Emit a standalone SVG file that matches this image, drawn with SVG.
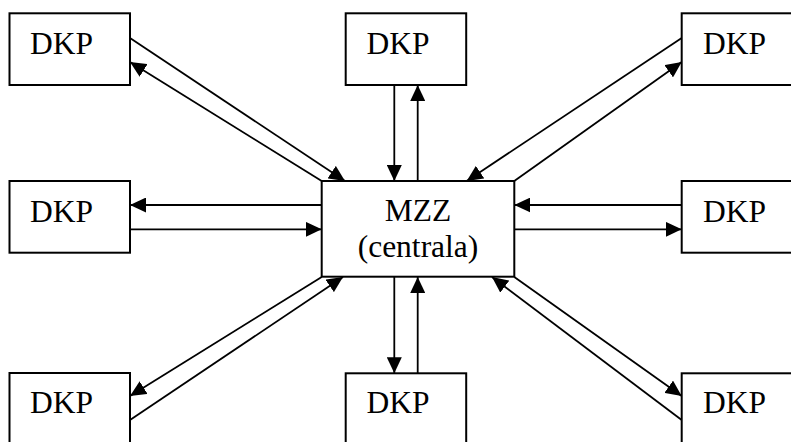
<svg xmlns="http://www.w3.org/2000/svg" width="791" height="442" viewBox="0 0 791 442">
<style>
.box{fill:#fff;stroke:#000;stroke-width:2}
.t{font-family:"Liberation Serif","Times New Roman",serif;font-size:31.5px;fill:#000}
.c line{stroke:#000;stroke-width:1.8;marker-end:url(#ah)}
</style>
<defs>
<marker id="ah" markerUnits="userSpaceOnUse" markerWidth="17" markerHeight="15" refX="16" refY="7.5" orient="auto" viewBox="0 0 17 15">
<path d="M0,0 L16,7.5 L0,15 z" fill="#000"/>
</marker>
</defs>
<rect width="791" height="442" fill="#fff"/>
<g class="c" id="connectors">
<line x1="130" y1="38" x2="345" y2="181"/>
<line x1="321.7" y1="181" x2="130" y2="62"/>
<line x1="394.3" y1="85" x2="394.3" y2="181"/>
<line x1="417.7" y1="181" x2="417.7" y2="85"/>
<line x1="681.7" y1="38" x2="466.7" y2="181"/>
<line x1="514.3" y1="181" x2="681.7" y2="62"/>
<line x1="321.7" y1="205" x2="130" y2="205"/>
<line x1="130" y1="229.3" x2="321.7" y2="229.3"/>
<line x1="681.7" y1="205" x2="514.3" y2="205"/>
<line x1="514.3" y1="229.3" x2="681.7" y2="229.3"/>
<line x1="321.7" y1="277" x2="130" y2="396"/>
<line x1="130" y1="420" x2="343" y2="277"/>
<line x1="394.3" y1="277" x2="394.3" y2="373.3"/>
<line x1="417.7" y1="373.3" x2="417.7" y2="277"/>
<line x1="514.3" y1="277" x2="681.7" y2="396"/>
<line x1="681.7" y1="420" x2="492" y2="277"/>
</g>
<g id="mzz"><rect class="box" x="321.7" y="181" width="192.6" height="95.7"/><text class="t" x="418" y="221" text-anchor="middle">MZZ</text><text class="t" x="418" y="257" text-anchor="middle">(centrala)</text></g>
<g id="dkp-tl"><rect class="box" x="9.5" y="13.3" width="120.5" height="71.7"/><text class="t" x="30" y="54">DKP</text></g>
<g id="dkp-tc"><rect class="box" x="345.7" y="13.3" width="120.5" height="71.7"/><text class="t" x="366.5" y="54">DKP</text></g>
<g id="dkp-tr"><rect class="box" x="681.7" y="13.3" width="120.5" height="71.7"/><text class="t" x="703" y="54">DKP</text></g>
<g id="dkp-ml"><rect class="box" x="9.5" y="181" width="120.5" height="71.7"/><text class="t" x="30" y="221.7">DKP</text></g>
<g id="dkp-mr"><rect class="box" x="681.7" y="181" width="120.5" height="71.7"/><text class="t" x="703" y="221.7">DKP</text></g>
<g id="dkp-bl"><rect class="box" x="9.5" y="373" width="120.5" height="71.7"/><text class="t" x="30" y="413.3">DKP</text></g>
<g id="dkp-bc"><rect class="box" x="345.7" y="373.3" width="120.5" height="71.7"/><text class="t" x="366.5" y="413.3">DKP</text></g>
<g id="dkp-br"><rect class="box" x="681.7" y="373.3" width="120.5" height="71.7"/><text class="t" x="703" y="413.3">DKP</text></g>
</svg>
